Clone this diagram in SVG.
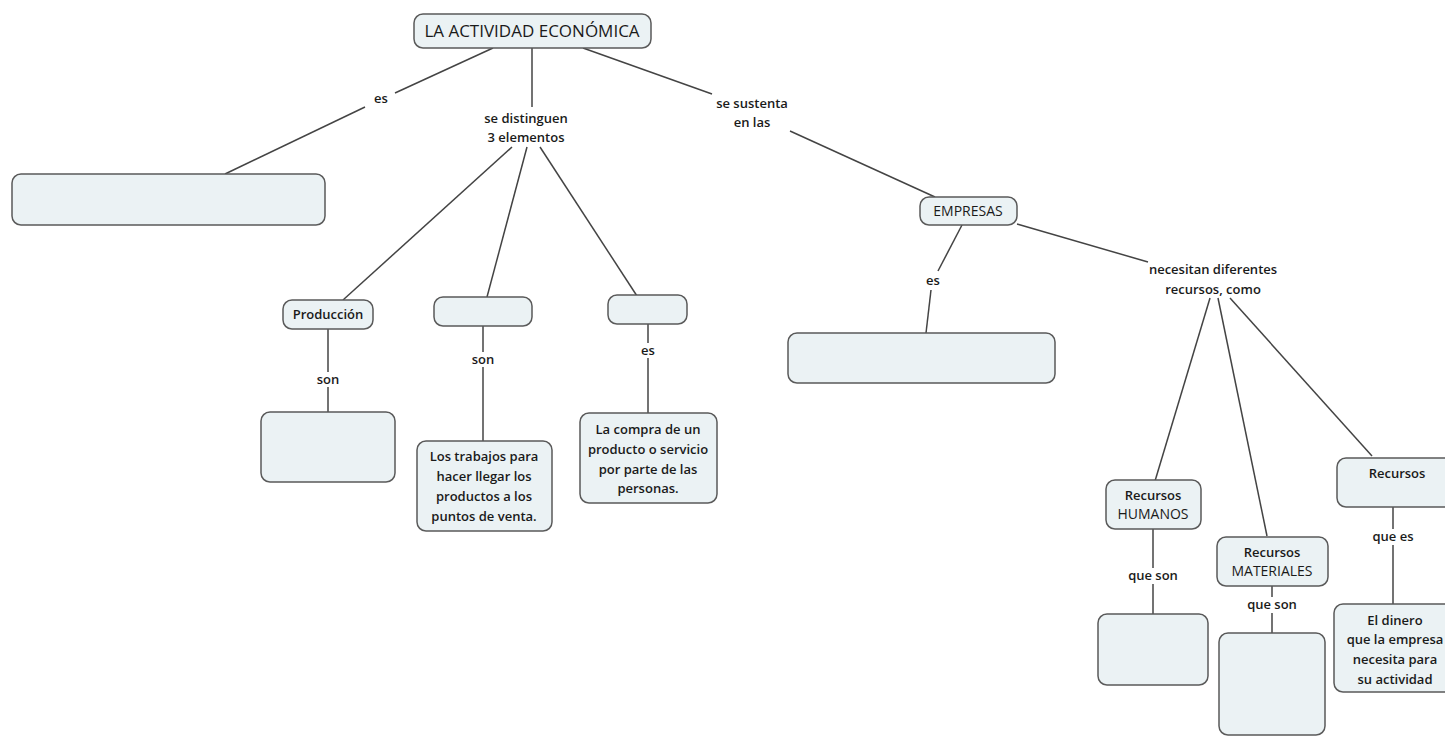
<svg xmlns="http://www.w3.org/2000/svg" width="1445" height="736" viewBox="0 0 1445 736">
<style>
.n{fill:#ebf2f4;stroke:#5a5a5a;stroke-width:1.5}
.t{font-family:"Open Sans",Lato,sans-serif;font-size:13px;fill:#1a1a1a;text-anchor:middle;font-weight:600}
.big{font-size:17px;font-weight:500}
.m{font-size:14px;font-weight:500}
.c line{stroke:#444;stroke-width:1.5}
</style>
<rect width="1445" height="736" fill="#fff"/>
<g class="c" id="connectors">
<line x1="493" y1="48" x2="395" y2="93"/>
<line x1="365" y1="107" x2="225" y2="174"/>
<line x1="532" y1="48" x2="532" y2="107"/>
<line x1="512" y1="147" x2="343" y2="300"/>
<line x1="527" y1="147" x2="487" y2="297"/>
<line x1="540" y1="147" x2="637" y2="296"/>
<line x1="583" y1="48" x2="712" y2="94"/>
<line x1="790" y1="131" x2="935" y2="197"/>
<line x1="328" y1="329" x2="328" y2="372"/>
<line x1="328" y1="387" x2="328" y2="412"/>
<line x1="483" y1="326" x2="483" y2="352"/>
<line x1="483" y1="367" x2="483" y2="441"/>
<line x1="648" y1="324" x2="648" y2="343"/>
<line x1="648" y1="358" x2="648" y2="413"/>
<line x1="962" y1="225" x2="938" y2="271"/>
<line x1="931" y1="290" x2="926" y2="333"/>
<line x1="1017" y1="224" x2="1148" y2="262"/>
<line x1="1210" y1="298" x2="1155" y2="481"/>
<line x1="1218" y1="298" x2="1267" y2="536"/>
<line x1="1230" y1="298" x2="1372" y2="456"/>
<line x1="1153" y1="529" x2="1153" y2="568"/>
<line x1="1153" y1="584" x2="1153" y2="614"/>
<line x1="1272" y1="586" x2="1272" y2="597"/>
<line x1="1272" y1="613" x2="1272" y2="633"/>
<line x1="1393" y1="507" x2="1393" y2="529"/>
<line x1="1393" y1="545" x2="1393" y2="604"/>
</g>
<g id="labels">
<text class="t" x="381" y="103">es</text>
<text class="t" x="526" y="123">se distinguen</text>
<text class="t" x="526" y="142">3 elementos</text>
<text class="t" x="752" y="108">se sustenta</text>
<text class="t" x="752" y="127">en las</text>
<text class="t" x="328" y="384">son</text>
<text class="t" x="483" y="364">son</text>
<text class="t" x="648" y="355">es</text>
<text class="t" x="933" y="285">es</text>
<text class="t" x="1213" y="274">necesitan diferentes</text>
<text class="t" x="1213" y="294">recursos, como</text>
<text class="t" x="1153" y="580">que son</text>
<text class="t" x="1272" y="609">que son</text>
<text class="t" x="1393" y="541">que es</text>
</g>
<g id="n-main"><rect class="n" x="414" y="14" width="237" height="34" rx="9"/><text class="t big" x="532" y="37">LA ACTIVIDAD ECONÓMICA</text></g>
<g id="n-es1"><rect class="n" x="12" y="174" width="313" height="51" rx="9"/></g>
<g id="n-produccion"><rect class="n" x="283" y="300" width="90" height="29" rx="9"/><text class="t" x="328" y="319">Producción</text></g>
<g id="n-e2"><rect class="n" x="434" y="297" width="98" height="29" rx="9"/></g>
<g id="n-e3"><rect class="n" x="608" y="295" width="79" height="29" rx="9"/></g>
<g id="n-prod-son"><rect class="n" x="261" y="412" width="134" height="70" rx="9"/></g>
<g id="n-trabajos"><rect class="n" x="417" y="441" width="135" height="90" rx="9"/>
<text class="t" x="484" y="461">Los trabajos para</text><text class="t" x="484" y="481">hacer llegar los</text><text class="t" x="484" y="501">productos a los</text><text class="t" x="484" y="521">puntos de venta.</text></g>
<g id="n-compra"><rect class="n" x="580" y="413" width="137" height="90" rx="9"/>
<text class="t" x="648" y="434">La compra de un</text><text class="t" x="648" y="454">producto o servicio</text><text class="t" x="648" y="474">por parte de las</text><text class="t" x="648" y="493">personas.</text></g>
<g id="n-empresas"><rect class="n" x="920" y="197" width="97" height="28" rx="9"/><text class="t m" x="968" y="216">EMPRESAS</text></g>
<g id="n-emp-es"><rect class="n" x="788" y="333" width="267" height="50" rx="9"/></g>
<g id="n-humanos"><rect class="n" x="1106" y="480" width="95" height="49" rx="9"/><text class="t" x="1153" y="500">Recursos</text><text class="t m" x="1153" y="519">HUMANOS</text></g>
<g id="n-hum-son"><rect class="n" x="1098" y="614" width="110" height="71" rx="9"/></g>
<g id="n-materiales"><rect class="n" x="1217" y="537" width="111" height="49" rx="9"/><text class="t" x="1272" y="557">Recursos</text><text class="t m" x="1272" y="576">MATERIALES</text></g>
<g id="n-mat-son"><rect class="n" x="1219" y="633" width="106" height="102" rx="9"/></g>
<g id="n-recursos"><rect class="n" x="1337" y="458" width="118" height="49" rx="9"/><text class="t" x="1397" y="478">Recursos</text></g>
<g id="n-dinero"><rect class="n" x="1334" y="604" width="121" height="88" rx="9"/>
<text class="t" x="1395" y="625">El dinero</text><text class="t" x="1395" y="644">que la empresa</text><text class="t" x="1395" y="664">necesita para</text><text class="t" x="1395" y="684">su actividad</text></g>
</svg>
